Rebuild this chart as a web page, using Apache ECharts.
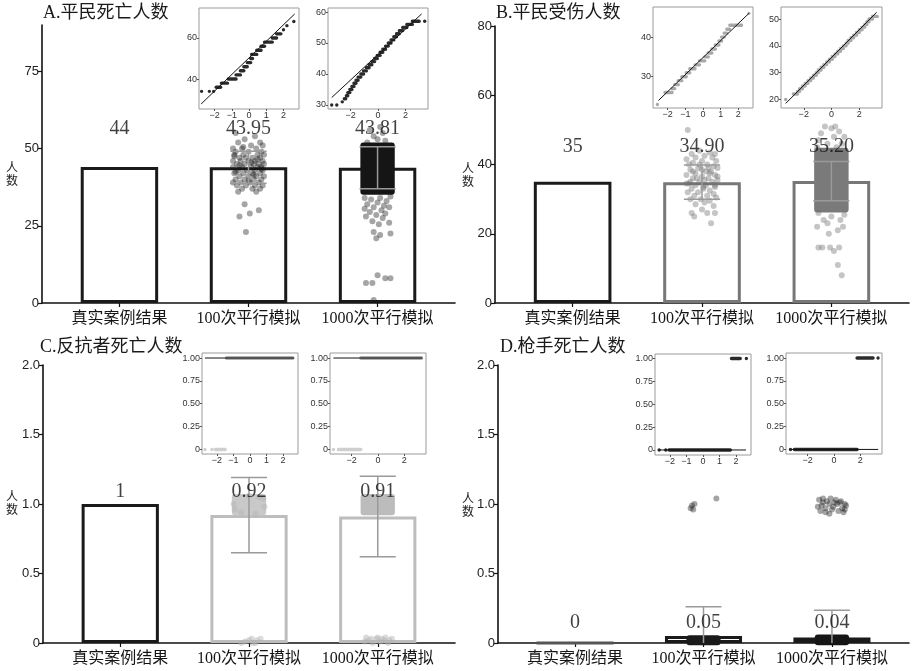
<!DOCTYPE html>
<html><head><meta charset="utf-8">
<script src="https://cdn.jsdelivr.net/npm/echarts@6/dist/echarts.min.js"></script>
<style>html,body{margin:0;padding:0;background:#fff}#c{width:913px;height:671px}</style>
</head><body><div id="c"></div>
<script>
// ---------------- DATA ----------------
const categories = ['真实案例结果', '100次平行模拟', '1000次平行模拟'];
const titles = ['A.平民死亡人数', 'B.平民受伤人数', 'C.反抗者死亡人数', 'D.枪手死亡人数'];

const valuesA = [44, 43.95, 43.81];
const valuesB = [35, 34.90, 35.20];
const valuesC = [1, 0.92, 0.91];
const valuesD = [0, 0.05, 0.04];
const labelsA = ['44', '43.95', '43.81'];
const labelsB = ['35', '34.90', '35.20'];
const labelsC = ['1', '0.92', '0.91'];
const labelsD = ['0', '0.05', '0.04'];
// standard deviations of simulated columns (100, 1000)
const sdA = [5.2, 6.8];
const sdB = [4.95, 5.7];
const sdC = [0.27, 0.29];
const sdD = [0.21, 0.196];

const ticksA = [0, 25, 50, 75];
const ticksB = [0, 20, 40, 60, 80];
const ticksC = [0, 0.5, 1, 1.5, 2];
const ticksD = [0, 0.5, 1, 1.5, 2];

// jittered simulation points [offset, value]
const ptsA100 = [[-0.10,55],[0.05,54],[-0.03,53],[0.09,52],[-0.08,52],[0.02,51],[0.11,51],[-0.12,50],[-0.05,50],[0.06,50],[0.1,49],[-0.1,49],[0.0,49],[-0.04,48],[0.07,48],[0.12,48],[-0.11,48],[-0.07,47],[0.03,47],[0.09,47],[-0.02,47],[-0.12,46],[0.05,46],[0.11,46],[-0.06,46],[0.0,46],[-0.09,45],[0.04,45],[0.08,45],[-0.03,45],[0.12,45],[-0.12,44],[-0.05,44],[0.02,44],[0.07,44],[0.1,44],[-0.08,43],[-0.01,43],[0.05,43],[0.11,43],[-0.11,42],[-0.04,42],[0.03,42],[0.09,42],[-0.07,41],[0.0,41],[0.06,41],[0.12,41],[-0.1,40],[-0.03,40],[0.04,40],[0.1,40],[-0.12,39],[-0.06,39],[0.01,39],[0.08,39],[-0.09,38],[-0.02,38],[0.05,38],[0.11,38],[-0.05,37],[0.03,37],[0.09,37],[-0.08,36],[0.06,36],[-0.1,42.5],[0.07,46.5],[-0.04,50.5],[0.02,45.5],[-0.07,44.5],[0.04,41.5],[0.1,43.5],[-0.11,47.5],[0.0,39.5],[-0.03,32],[-0.07,28],[0.01,29],[0.08,30],[-0.02,23]];
const coreA1000 = [36, 51];
const ptsA1000 = [[-0.1,34],[-0.05,33.5],[0.02,34],[0.07,33],[0.1,34.5],[-0.08,32],[0.0,32.5],[0.05,31.5],[-0.03,31],[0.09,31],[-0.1,30.5],[0.03,30],[-0.06,29.5],[0.06,29],[-0.01,28.5],[-0.09,28],[0.04,27.5],[0.09,26],[-0.04,26.5],[0.01,25.5],[-0.03,23],[0.02,22],[0.1,22.5],[-0.01,21],[0.0,9],[-0.09,6.5],[-0.04,6.5],[0.06,8],[0.1,8],[-0.03,1],[-0.08,52],[0.0,53],[0.06,52.5],[-0.03,54],[0.04,55],[-0.06,56],[0.02,57]];

const ptsB100 = [[-0.11,50],[-0.02,44],[0.06,43.5],[-0.08,43],[0.1,43],[0.02,42.5],[-0.05,42],[0.08,42],[-0.12,41.5],[0.0,41],[0.11,41],[-0.07,40.5],[0.04,40],[-0.1,40],[0.09,39.5],[-0.03,39],[0.12,39],[-0.09,38.5],[0.03,38],[0.07,38],[-0.05,37.5],[0.1,37],[-0.12,37],[0.0,36.5],[0.05,36],[-0.07,36],[0.12,35.5],[-0.02,35],[0.08,35],[-0.1,34.5],[0.03,34],[-0.05,34],[0.1,33.5],[-0.08,33],[0.01,33],[0.06,32.5],[-0.11,32],[-0.03,32],[0.09,31.5],[0.04,31],[-0.06,31],[0.11,30.5],[-0.01,30],[-0.09,30],[0.06,29.5],[0.02,29],[-0.05,28.5],[0.09,28],[0.0,27],[-0.08,26],[0.04,26],[0.1,26],[-0.06,25],[0.07,23],[0.0,38.5],[0.05,39],[-0.04,36],[0.02,35.5],[-0.09,35],[0.1,34],[0.06,37.5],[-0.02,40],[0.01,33.5],[-0.07,38],[0.12,36.5],[-0.12,34.5]];
const coreB1000 = [27, 44];
const ptsB1000 = [[-0.05,51],[0.0,50.5],[0.03,51],[-0.08,49],[0.06,49.5],[0.1,48],[-0.1,47],[0.02,48],[-0.03,46],[0.08,46],[-0.11,45],[0.04,45],[-0.1,26],[0.1,25.5],[-0.06,24],[0.07,24],[-0.11,22],[0.09,22],[-0.02,20],[0.05,21],[-0.1,16],[-0.07,16],[-0.01,16],[0.02,15],[0.06,16],[0.05,11],[0.08,8],[-0.03,23],[0.0,25]];

const coreC100 = [0.94, 1.05];
const ptsC100 = [[-0.12,1.0],[0.12,0.98],[0.11,1.04],[-0.11,0.96],[0.0,1.06],[0.05,0.93],[-0.06,0.94],[0.08,1.05],[-0.03,0.01],[0.0,0.02],[0.03,0.0],[0.06,0.02],[0.09,0.03],[-0.06,0.0],[0.02,0.03],[0.05,0.0]];
const coreC1000 = [0.94, 1.05];
const ptsC1000 = [[-0.1,0.01],[-0.07,0.02],[-0.04,0.0],[-0.01,0.03],[0.02,0.01],[0.05,0.02],[0.08,0.0],[0.11,0.03],[-0.09,0.04],[0.0,0.04],[0.06,0.04],[-0.05,0.03],[0.03,0.03],[0.09,0.02]];

const coreD100 = [0.005, 0.035];
const ptsD100 = [[-0.1,0.97],[-0.09,0.99],[-0.07,1.0],[-0.08,0.96],[0.1,1.04]];
const coreD1000 = [0.005, 0.04];
const ptsD1000 = [[-0.1,1.03],[-0.07,1.04],[-0.04,1.02],[-0.01,1.04],[0.03,1.03],[0.07,1.02],[0.1,1.0],[-0.11,0.98],[-0.08,0.99],[-0.05,0.97],[-0.02,1.0],[0.01,0.98],[0.04,1.0],[0.08,0.97],[0.11,0.99],[-0.09,0.95],[-0.05,0.94],[0.0,0.96],[0.05,0.95],[0.09,0.94],[-0.02,0.93],[0.06,1.01],[-0.07,1.01],[0.02,1.01],[0.1,0.96]];

// Q-Q plot runs [theoretical q from, q to, sample value]
const qqA100 = [[-2.75,-2.75,34],[-2.3,-2.3,34],[-2.05,-2.05,34],[-1.9,-1.65,36],[-1.6,-1.25,38],[-1.2,-0.75,40],[-0.75,-0.5,42],[-0.5,-0.3,44],[-0.3,-0.1,46],[-0.1,0.1,48],[0.1,0.2,50],[0.15,0.45,52],[0.45,0.7,54],[0.7,0.9,56],[0.9,1.35,58],[1.35,1.6,60],[1.6,1.85,62],[2.0,2.0,64],[2.2,2.2,66],[2.6,2.6,68]];
const qqA100Line = [[-2.78,27.8],[2.65,71.7]];
const qqA1000 = [[-3.37,-3.37,30],[-3.0,-3.0,30],[-2.6,-2.6,31],[-2.45,-2.35,32],[-2.3,-2.2,33],[-2.2,-2.05,34],[-2.05,-1.9,35],[-1.9,-1.75,36],[-1.75,-1.6,37],[-1.6,-1.45,38],[-1.45,-1.25,39],[-1.25,-1.05,40],[-1.05,-0.85,41],[-0.85,-0.65,42],[-0.65,-0.45,43],[-0.45,-0.25,44],[-0.25,-0.05,45],[-0.05,0.15,46],[0.15,0.35,47],[0.35,0.55,48],[0.55,0.75,49],[0.75,0.95,50],[0.95,1.15,51],[1.15,1.35,52],[1.35,1.55,53],[1.55,1.8,54],[1.8,2.1,55],[2.1,2.5,56],[2.5,3.0,57],[3.4,3.4,57]];
const qqA1000Line = [[-3.37,32.4],[3.18,59.4]];
const qqB100 = [[-2.58,-2.58,23],[-2.15,-1.75,26],[-1.75,-1.6,27],[-1.6,-1.4,28],[-1.4,-1.2,29],[-1.2,-0.95,30],[-0.95,-0.75,31],[-0.75,-0.45,32],[-0.45,-0.2,33],[-0.2,0.1,34],[0.1,0.3,35],[0.3,0.5,36],[0.5,0.7,37],[0.7,0.9,38],[0.9,1.05,39],[1.05,1.2,40],[1.2,1.35,41],[1.35,1.5,42],[1.52,2.18,43],[2.6,2.6,46]];
const qqB100Line = [[-2.52,24],[2.6,46]];
const qqB1000 = [[-3.3,-3.3,20],[-2.75,-2.45,22],[-2.45,-2.3,23],[-2.3,-2.1,24],[-2.1,-1.9,25],[-1.9,-1.7,26],[-1.7,-1.5,27],[-1.5,-1.3,28],[-1.3,-1.1,29],[-1.1,-0.95,30],[-0.95,-0.75,31],[-0.75,-0.55,32],[-0.55,-0.35,33],[-0.35,-0.15,34],[-0.15,0.05,35],[0.05,0.25,36],[0.25,0.45,37],[0.45,0.65,38],[0.65,0.85,39],[0.85,1.05,40],[1.05,1.2,41],[1.2,1.4,42],[1.4,1.6,43],[1.6,1.8,44],[1.8,2.0,45],[2.0,2.2,46],[2.2,2.4,47],[2.4,2.55,48],[2.55,2.7,49],[2.7,2.95,50],[2.95,3.3,51]];
const qqB1000Line = [[-3.3,18.5],[3.25,52.5]];
const qqC100 = [[-2.72,-2.72,0],[-2.3,-2.3,0],[-2.1,-1.5,0],[-1.42,2.58,1]];
const qqC100Line = [[-2.72,1],[2.67,1]];
const qqC1000 = [[-3.38,-3.38,0],[-3.0,-1.3,0],[-1.3,3.3,1]];
const qqC1000Line = [[-3.38,1],[3.35,1]];
const qqD100 = [[-2.65,-2.65,0],[-2.25,-2.25,0],[-2.05,1.65,0],[1.72,2.25,1],[2.62,2.62,1]];
const qqD100Line = [[-2.65,0],[2.6,0]];
const qqD1000 = [[-3.3,-3.3,0],[-3.0,1.75,0],[1.75,2.96,1],[3.34,3.34,1]];
const qqD1000Line = [[-3.3,0],[3.35,0]];

const qqXTicks100 = [-2, -1, 0, 1, 2];
const qqXTicks1000 = [-2, 0, 2];
const qqYTicksA100 = [40, 60];
const qqYTicksA1000 = [30, 40, 50, 60];
const qqYTicksB100 = [30, 40];
const qqYTicksB1000 = [20, 30, 40, 50];
const qqYTicksProb = [0, 0.25, 0.5, 0.75, 1];

// ---------------- BUILD ----------------
const SERIF = '"Liberation Serif","Noto Sans CJK SC",serif';
const SANS = '"Liberation Sans",Arial,sans-serif';
const CJK = '"Noto Sans CJK SC",sans-serif';
const JW = 0.11, CAP = 0.14, BARW = 0.6, EB = '#9a9a9a';

const option = {animation: false, backgroundColor: '#fff', grid: [], xAxis: [], yAxis: [], series: [], title: [], graphic: []};

function mainPanel(p) {
  const gi = option.grid.length;
  const [L, T, W, H] = p.box;
  option.grid.push({left: L, top: T, width: W, height: H});
  option.xAxis.push({gridIndex: gi, type: 'value', min: 0.4, max: 3.6,
    axisLine: {show: true, onZero: false, lineStyle: {color: '#111', width: 1.6}},
    axisTick: {show: true, customValues: [1, 2, 3], length: 4, lineStyle: {color: '#111', width: 1.2}},
    axisLabel: {customValues: [1, 2, 3], formatter: v => categories[Math.round(v) - 1], fontSize: 16, fontFamily: SERIF, color: '#151515', margin: 8},
    splitLine: {show: false}});
  option.yAxis.push({gridIndex: gi, type: 'value', min: 0, max: p.yMax,
    axisLine: {show: true, onZero: false, lineStyle: {color: '#111', width: 1.6}},
    axisTick: {show: true, customValues: p.ticks, length: 4, lineStyle: {color: '#111', width: 1.2}},
    axisLabel: {customValues: p.ticks, formatter: p.fmt, fontSize: 13, fontFamily: SANS, color: '#222', margin: 3},
    splitLine: {show: false}});
  const ax = {xAxisIndex: gi, yAxisIndex: gi};
  // bars
  option.series.push(Object.assign({type: 'bar', barWidth: W / 3.2 * BARW, z: 2, silent: true,
    data: p.values.map((v, i) => ({value: [i + 1, v], itemStyle: {color: 'rgba(0,0,0,0)', borderColor: i === 0 ? p.realColor : p.simColor, borderWidth: 3}}))}, ax));
  // dense cores
  p.cores.forEach(([xi, core, color]) => {
    option.series.push(Object.assign({type: 'custom', z: 3, silent: true, data: [[xi, core[0], core[1]]], encode: {x: 0, y: [1, 2]},
      renderItem: (params, api) => {
        const x = api.value(0);
        const a = api.coord([x - JW, api.value(2)]), b = api.coord([x + JW, api.value(1)]);
        return {type: 'rect', shape: {x: a[0] - 3, y: a[1] - 3, width: b[0] - a[0] + 6, height: b[1] - a[1] + 6, r: 3}, style: {fill: color}};
      }}, ax));
  });
  // jitter points
  p.pts.forEach(([xi, arr]) => {
    option.series.push(Object.assign({type: 'scatter', z: 3, silent: true, symbolSize: 6,
      itemStyle: {color: p.ptColor}, data: arr.map(([dx, y]) => [xi + dx, y])}, ax));
  });
  // error bars
  option.series.push(Object.assign({type: 'custom', z: 4, silent: true,
    data: [[2, p.values[1], p.sd[0]], [3, p.values[2], p.sd[1]]], encode: {x: 0, y: 1},
    renderItem: (params, api) => {
      const x = api.value(0), m = api.value(1), s = api.value(2);
      const t = api.coord([x, m + s]), b = api.coord([x, Math.max(m - s, 0)]);
      const cw = api.size([CAP, 0])[0];
      const st = {stroke: EB, lineWidth: 1.5};
      const kids = [
        {type: 'line', shape: {x1: t[0], y1: t[1], x2: b[0], y2: b[1]}, style: st},
        {type: 'line', shape: {x1: t[0] - cw, y1: t[1], x2: t[0] + cw, y2: t[1]}, style: st}];
      if (m - s >= 0) kids.push({type: 'line', shape: {x1: b[0] - cw, y1: b[1], x2: b[0] + cw, y2: b[1]}, style: st});
      return {type: 'group', children: kids};
    }}, ax));
  // value labels
  option.series.push(Object.assign({type: 'scatter', z: 6, silent: true, symbolSize: 1, itemStyle: {color: 'rgba(0,0,0,0)'},
    data: p.labels.map((t, i) => ({value: [i + 1, p.labelY], label: {formatter: t}})),
    label: {show: true, position: 'inside', fontSize: 20, fontFamily: SERIF, color: '#111'}}, ax));
  // title and axis name
  option.title.push({text: p.title, left: p.titleXY[0], top: p.titleXY[1], padding: 0,
    textStyle: {fontSize: 18, fontWeight: 'normal', fontFamily: SERIF, color: '#1a1a1a'}});
  option.graphic.push({type: 'text', x: p.nameXY[0], y: p.nameXY[1],
    style: {text: '人\n数', fontSize: 12, fontFamily: CJK, fill: '#222', align: 'center', verticalAlign: 'middle', lineHeight: 13}});
}

function qqInset(q) {
  const gi = option.grid.length;
  const [L, T, W, H] = q.box;
  option.grid.push({left: L, top: T, width: W, height: H, show: true, borderColor: '#9a9a9a', borderWidth: 1, backgroundColor: '#fff', z: 5});
  const lab = {fontSize: 9, fontFamily: SANS, color: '#333', margin: 2};
  option.xAxis.push({gridIndex: gi, type: 'value', min: q.x[0], max: q.x[1], z: 5, position: 'bottom',
    axisLine: {show: false, onZero: false}, splitLine: {show: false},
    axisTick: {show: true, customValues: q.xt, length: 2, lineStyle: {color: '#555'}},
    axisLabel: Object.assign({customValues: q.xt, formatter: v => (v < 0 ? '\u2212' + (-v) : String(v))}, lab)});
  option.yAxis.push({gridIndex: gi, type: 'value', min: q.y[0], max: q.y[1], z: 5, position: 'left',
    axisLine: {show: false, onZero: false}, splitLine: {show: false},
    axisTick: {show: true, customValues: q.yt, length: 2, lineStyle: {color: '#555'}},
    axisLabel: Object.assign({customValues: q.yt, formatter: q.fmt}, lab)});
  const ax = {xAxisIndex: gi, yAxisIndex: gi};
  option.series.push(Object.assign({type: 'custom', z: 6, silent: true, clip: true, data: q.runs, encode: {x: [0, 1], y: 2},
    renderItem: (params, api) => {
      const a = api.coord([api.value(0), api.value(2)]), b = api.coord([api.value(1), api.value(2)]);
      const r = 1.7;
      const c = (q.zeroColor && api.value(2) === 0) ? q.zeroColor : q.color;
      return {type: 'rect', shape: {x: a[0] - r, y: a[1] - r, width: b[0] - a[0] + 2 * r, height: 2 * r, r: r}, style: {fill: c}};
    }}, ax));
  option.series.push(Object.assign({type: 'line', z: 7, silent: true, symbol: 'none', data: q.line,
    lineStyle: {color: '#111', width: 1}}, ax));
}

const fmtInt = v => String(v);
const fmtOne = v => (v === 0 ? '0' : v.toFixed(1));
const fmtTwo = v => (v === 0 ? '0' : v.toFixed(2));

mainPanel({box: [42, 25, 413, 278], yMax: 90, ticks: ticksA, fmt: fmtInt, values: valuesA, labels: labelsA, sd: sdA,
  realColor: '#1a1a1a', simColor: '#1a1a1a', ptColor: 'rgba(20,20,20,0.48)', cores: [[3, coreA1000, '#151515']], pts: [[2, ptsA100], [3, ptsA1000]],
  labelY: 56.3, title: titles[0], titleXY: [43, 4], nameXY: [12, 174]});
mainPanel({box: [495, 26, 414, 277], yMax: 80, ticks: ticksB, fmt: fmtInt, values: valuesB, labels: labelsB, sd: sdB,
  realColor: '#1a1a1a', simColor: '#777', ptColor: 'rgba(110,110,110,0.5)', cores: [[3, coreB1000, '#7a7a7a']], pts: [[2, ptsB100], [3, ptsB1000]],
  labelY: 45, title: titles[1], titleXY: [496, 4], nameXY: [468, 175]});
mainPanel({box: [43, 365, 412, 278], yMax: 2, ticks: ticksC, fmt: fmtOne, values: valuesC, labels: labelsC, sd: sdC,
  realColor: '#1a1a1a', simColor: '#bdbdbd', ptColor: 'rgba(180,180,180,0.6)', cores: [[2, coreC100, '#c9c9c9'], [3, coreC1000, '#bcbcbc']], pts: [[2, ptsC100], [3, ptsC1000]],
  labelY: 1.09, title: titles[2], titleXY: [40, 338], nameXY: [12, 503]});
mainPanel({box: [498, 365, 411, 278], yMax: 2, ticks: ticksD, fmt: fmtOne, values: valuesD, labels: labelsD, sd: sdD,
  realColor: '#555', simColor: '#1a1a1a', ptColor: 'rgba(20,20,20,0.48)', cores: [[2, coreD100, '#1a1a1a'], [3, coreD1000, '#151515']], pts: [[2, ptsD100], [3, ptsD1000]],
  labelY: 0.144, title: titles[3], titleXY: [500, 338], nameXY: [468, 505]});

qqInset({box: [199, 8, 100, 101], x: [-2.9, 2.9], y: [25.4, 74.6], xt: qqXTicks100, yt: qqYTicksA100, fmt: fmtInt, runs: qqA100, line: qqA100Line, color: '#2a2a2a'});
qqInset({box: [328, 8, 100, 101], x: [-3.64, 3.64], y: [28.7, 61.3], xt: qqXTicks1000, yt: qqYTicksA1000, fmt: fmtInt, runs: qqA1000, line: qqA1000Line, color: '#2a2a2a'});
qqInset({box: [653, 7, 100, 101], x: [-2.83, 2.83], y: [22.1, 47.6], xt: qqXTicks100, yt: qqYTicksB100, fmt: fmtInt, runs: qqB100, line: qqB100Line, color: '#a8a8a8'});
qqInset({box: [781, 7, 101, 101], x: [-3.64, 3.64], y: [16.8, 54.5], xt: qqXTicks1000, yt: qqYTicksB1000, fmt: fmtInt, runs: qqB1000, line: qqB1000Line, color: '#a8a8a8'});
qqInset({box: [202, 353, 96, 101], x: [-2.9, 2.9], y: [-0.05, 1.055], xt: qqXTicks100, yt: qqYTicksProb, fmt: fmtTwo, runs: qqC100, line: qqC100Line, color: '#999', zeroColor: '#cfcfcf'});
qqInset({box: [330, 353, 96, 101], x: [-3.64, 3.64], y: [-0.05, 1.055], xt: qqXTicks1000, yt: qqYTicksProb, fmt: fmtTwo, runs: qqC1000, line: qqC1000Line, color: '#999', zeroColor: '#cfcfcf'});
qqInset({box: [655, 354, 96, 101], x: [-2.9, 2.9], y: [-0.055, 1.05], xt: qqXTicks100, yt: qqYTicksProb, fmt: fmtTwo, runs: qqD100, line: qqD100Line, color: '#2a2a2a'});
qqInset({box: [786, 353, 96, 101], x: [-3.64, 3.64], y: [-0.05, 1.055], xt: qqXTicks1000, yt: qqYTicksProb, fmt: fmtTwo, runs: qqD1000, line: qqD1000Line, color: '#2a2a2a'});

const chart = echarts.init(document.getElementById('c'), null, {renderer: 'canvas'});
chart.setOption(option);
</script></body></html>
